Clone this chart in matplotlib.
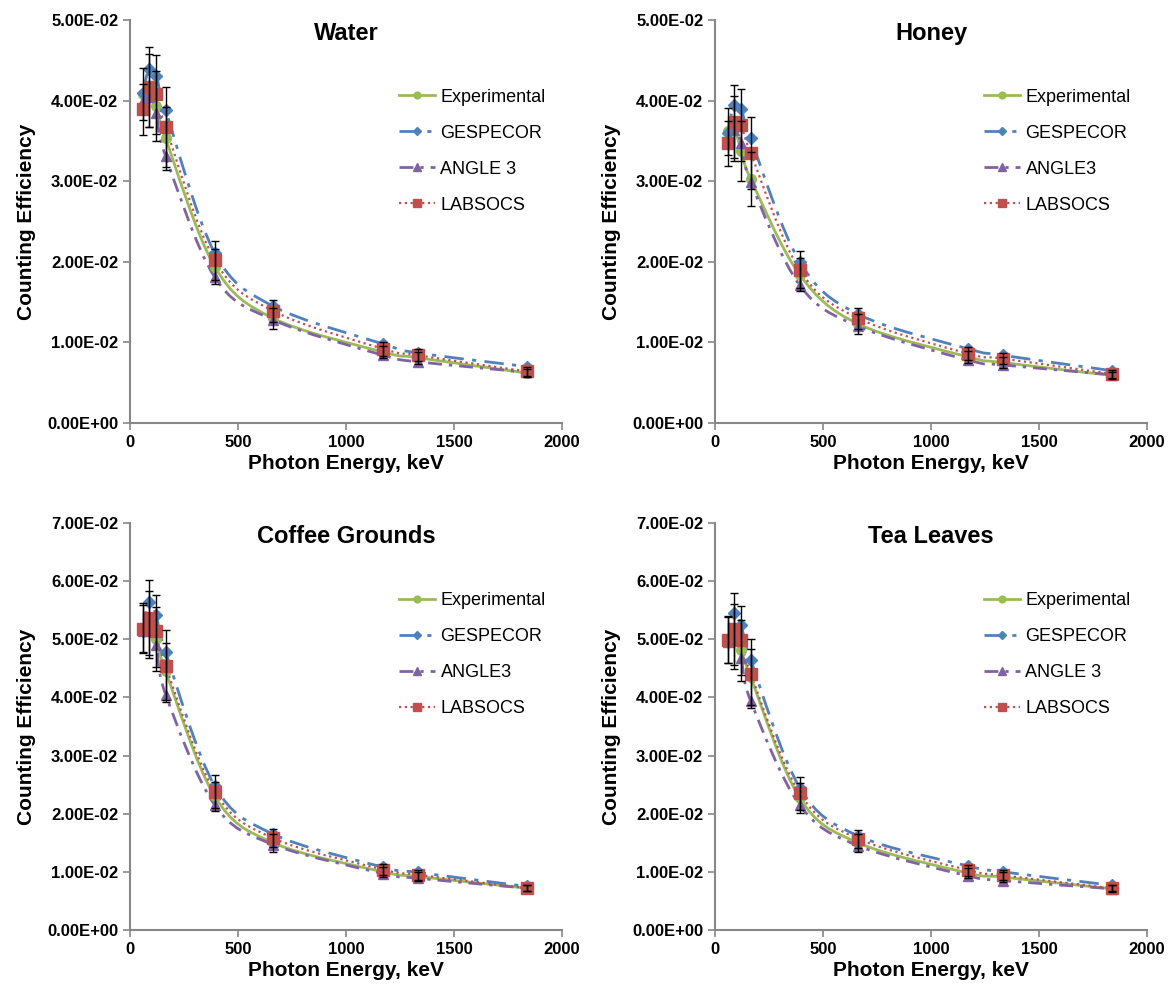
import matplotlib
matplotlib.use("Agg")
import matplotlib.pyplot as plt
from matplotlib.ticker import FuncFormatter, MultipleLocator
from matplotlib.path import Path
from matplotlib.patches import PathPatch
from matplotlib.lines import Line2D

plt.rcParams['font.family'] = ['Liberation Sans', 'DejaVu Sans']

energy = [59.5, 88, 122, 165, 392, 662, 1173, 1332, 1836]

titles = ["Water", "Honey", "Coffee Grounds", "Tea Leaves"]
angle_labels = ["ANGLE 3", "ANGLE3", "ANGLE3", "ANGLE 3"]
ymax = [0.05, 0.05, 0.07, 0.07]

water_exp = [0.0408, 0.0412, 0.0393, 0.0353, 0.0194, 0.0130, 0.0088, 0.0081, 0.0062]
water_ges = [0.0410, 0.0439, 0.0431, 0.0388, 0.0211, 0.0145, 0.0098, 0.0087, 0.0070]
water_ang = [0.0400, 0.0404, 0.0384, 0.0331, 0.0181, 0.0128, 0.0084, 0.0076, 0.0063]
water_lab = [0.0389, 0.0417, 0.0408, 0.0367, 0.0202, 0.0139, 0.0092, 0.0084, 0.0064]

honey_exp = [0.0362, 0.0365, 0.0338, 0.0303, 0.0184, 0.0123, 0.0082, 0.0075, 0.0059]
honey_ges = [0.0360, 0.0395, 0.0389, 0.0353, 0.0200, 0.0135, 0.0092, 0.0084, 0.0065]
honey_ang = [0.0350, 0.0363, 0.0347, 0.0299, 0.0171, 0.0120, 0.0078, 0.0072, 0.0060]
honey_lab = [0.0347, 0.0374, 0.0370, 0.0335, 0.0190, 0.0130, 0.0086, 0.0080, 0.0061]

coffee_exp = [0.0520, 0.0525, 0.0500, 0.0445, 0.0230, 0.0150, 0.0100, 0.0092, 0.0072]
coffee_ges = [0.0515, 0.0564, 0.0541, 0.0478, 0.0248, 0.0165, 0.0108, 0.0099, 0.0075]
coffee_ang = [0.0515, 0.0515, 0.0490, 0.0405, 0.0215, 0.0147, 0.0097, 0.0089, 0.0072]
coffee_lab = [0.0518, 0.0537, 0.0514, 0.0454, 0.0238, 0.0158, 0.0104, 0.0095, 0.0072]

tea_exp = [0.0500, 0.0505, 0.0481, 0.0435, 0.0227, 0.0150, 0.0098, 0.0091, 0.0071]
tea_ges = [0.0495, 0.0546, 0.0524, 0.0465, 0.0245, 0.0162, 0.0110, 0.0100, 0.0077]
tea_ang = [0.0495, 0.0501, 0.0467, 0.0394, 0.0215, 0.0145, 0.0093, 0.0085, 0.0071]
tea_lab = [0.0499, 0.0518, 0.0498, 0.0441, 0.0235, 0.0157, 0.0103, 0.0094, 0.0072]

# relative uncertainties of the error bars
rel_err_exp = [0.08, 0.11, 0.11, 0.11, 0.11, 0.10, 0.09, 0.09, 0.08]
rel_err_lab = [0.08, 0.12, 0.12, 0.135, 0.12, 0.10, 0.09, 0.09, 0.08]

panels = [
    (water_exp, water_ges, water_ang, water_lab),
    (honey_exp, honey_ges, honey_ang, honey_lab),
    (coffee_exp, coffee_ges, coffee_ang, coffee_lab),
    (tea_exp, tea_ges, tea_ang, tea_lab),
]

c_exp = '#9BBB59'
c_ges = '#4F81BD'
c_ang = '#8064A2'
c_lab = '#C0504D'
spine_c = '#878787'


def smooth_path(xs, ys):
    """Excel-style smoothed line: cubic Bezier segments (Catmull-Rom control points)."""
    n = len(xs)
    verts = [(xs[0], ys[0])]
    codes = [Path.MOVETO]
    for k in range(n - 1):
        x0, y0 = (xs[k - 1], ys[k - 1]) if k > 0 else (xs[k], ys[k])
        x1, y1 = xs[k], ys[k]
        x2, y2 = xs[k + 1], ys[k + 1]
        x3, y3 = (xs[k + 2], ys[k + 2]) if k + 2 < n else (xs[k + 1], ys[k + 1])
        c1 = (x1 + (x2 - x0) / 6.0, y1 + (y2 - y0) / 6.0)
        c2 = (x2 - (x3 - x1) / 6.0, y2 - (y3 - y1) / 6.0)
        verts += [c1, c2, (x2, y2)]
        codes += [Path.CURVE4] * 3
    return Path(verts, codes)


styles = [
    dict(color=c_exp, lw=2.0, ls='-', marker='o', ms=7),
    dict(color=c_ges, lw=2.0, ls=(0, (7, 3, 1.5, 3)), marker='D', ms=6),
    dict(color=c_ang, lw=2.0, ls=(0, (5, 2.5, 1.2, 2.5)), marker='^', ms=7.5),
    dict(color=c_lab, lw=1.6, ls=(0, (1, 1.6)), marker='s', ms=8),
]

fig = plt.figure(figsize=(11.7, 9.92), dpi=100)
W, H = 1170, 992
boxes = [
    (130, 20, 562, 423),
    (715, 20, 1147, 423),
    (130, 523, 562, 930),
    (715, 523, 1147, 930),
]

for i, series in enumerate(panels):
    exp, ges, ang, lab = series
    l, t, r, b = boxes[i]
    ax = fig.add_axes([l / W, 1 - b / H, (r - l) / W, (b - t) / H])
    labels = ['Experimental', 'GESPECOR', angle_labels[i], 'LABSOCS']
    handles = []
    for j, (vals, st) in enumerate(zip(series, styles)):
        patch = PathPatch(smooth_path(energy, vals), facecolor='none',
                          edgecolor=st['color'], lw=st['lw'], ls=st['ls'], zorder=3 + j * 0.1)
        ax.add_patch(patch)
        ax.plot(energy, vals, linestyle='none', marker=st['marker'], ms=st['ms'],
                color=st['color'], zorder=4 + j * 0.1)
        handles.append(Line2D([], [], color=st['color'], lw=st['lw'], ls=st['ls'],
                              marker=st['marker'], ms=st['ms'] * 0.7))
    ax.errorbar(energy, exp, yerr=[v * e for v, e in zip(exp, rel_err_exp)], fmt='none',
                ecolor='black', elinewidth=1, capsize=3, capthick=1, zorder=5)
    ax.errorbar(energy, lab, yerr=[v * e for v, e in zip(lab, rel_err_lab)], fmt='none',
                ecolor='black', elinewidth=1, capsize=3, capthick=1, zorder=5)

    ax.set_xlim(0, 2000)
    ax.set_ylim(0, ymax[i])
    ax.xaxis.set_major_locator(MultipleLocator(500))
    ax.yaxis.set_major_locator(MultipleLocator(0.01))
    ax.yaxis.set_major_formatter(FuncFormatter(lambda v, p: '{:.2E}'.format(v)))
    for s in ['top', 'right']:
        ax.spines[s].set_visible(False)
    for s in ['left', 'bottom']:
        ax.spines[s].set_color(spine_c)
        ax.spines[s].set_linewidth(1.5)
    ax.tick_params(axis='both', colors=spine_c, length=5, width=1.2, labelsize=12,
                   labelcolor='black', direction='out')
    for lbl in ax.get_xticklabels() + ax.get_yticklabels():
        lbl.set_fontweight('bold')
    ax.set_xlabel('Photon Energy, keV', fontsize=15, fontweight='bold', labelpad=3)
    ax.set_ylabel('Counting Efficiency', fontsize=15, fontweight='bold', labelpad=8)
    ax.text(0.5, 0.967, titles[i], transform=ax.transAxes, ha='center', va='center',
            fontsize=17, fontweight='bold')
    ax.legend(handles, labels, loc='upper left', bbox_to_anchor=(0.585, 0.87),
              frameon=False, fontsize=13, labelspacing=1.05, handlelength=2.0,
              handletextpad=0.3)

fig.savefig('out.png', dpi=100)
